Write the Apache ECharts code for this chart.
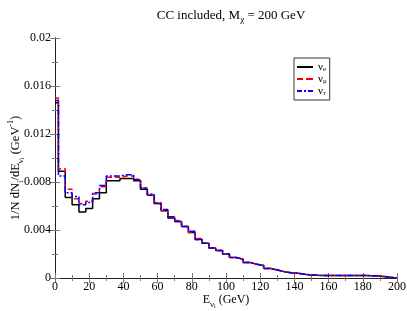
<!DOCTYPE html>
<html><head><meta charset="utf-8">
<script src="https://cdn.jsdelivr.net/npm/echarts@6/dist/echarts.min.js"></script>
<style>html,body{margin:0;padding:0;background:#fff}#c{width:407px;height:311px}</style>
</head><body><div id="c"></div>
<script>
// Bin edges (GeV)
const binEdges = [0,2,6,10,14,18,22,26,30,34,38,42,46,50,54,58,62,66,70,74,78,82,86,90,94,98,102,106,110,114,118,122,126,130,134,138,142,146,150,154,158,162,166,170,174,178,182,186,190];
const xEnd = 200;
// nu_e (black, solid)
const nuE = [0.0146,0.0089,0.0067,0.0061,0.0055,0.0058,0.0066,0.0071,0.0081,0.0081,0.0083,0.0083,0.0081,0.0074,0.0069,0.0062,0.0056,0.0050,0.0047,0.0043,0.0038,0.0032,0.0029,0.0025,0.0023,0.0020,0.0017,0.00156,0.0013,0.00114,0.00104,0.0008,0.00067,0.00053,0.00044,0.0004,0.00031,0.00024,0.00022,0.00021,0.00021,0.0002,0.0002,0.0002,0.0002,0.0002,0.00019,0.00016];
// nu_mu (red, dashed)
const nuMu = [0.0150,0.0091,0.0074,0.0066,0.0062,0.0064,0.0070,0.0076,0.0084,0.0084,0.0085,0.0085,0.0082,0.0075,0.0069,0.0063,0.0056,0.0051,0.0048,0.0043,0.0038,0.0033,0.0029,0.0025,0.0023,0.0020,0.0017,0.00155,0.0013,0.00115,0.00104,0.00081,0.00068,0.00053,0.00045,0.0004,0.00032,0.00024,0.00022,0.00021,0.0002,0.0002,0.0002,0.0002,0.0002,0.0002,0.00018,0.00014];
// nu_tau (blue, dash-dot)
const nuTau = [0.0148,0.0085,0.0071,0.0068,0.0061,0.0063,0.0071,0.0077,0.0085,0.0085,0.0086,0.0086,0.0082,0.0075,0.0070,0.0062,0.0057,0.0051,0.0047,0.0043,0.0039,0.0032,0.0029,0.0025,0.0023,0.0020,0.0017,0.00157,0.0013,0.00114,0.00105,0.0008,0.00067,0.00054,0.00044,0.0004,0.00031,0.00025,0.00022,0.00021,0.00021,0.0002,0.0002,0.0002,0.0002,0.0002,0.00019,0.00016];
const seriesNames = ['nue','numu','nutau'];
const legendLabels = {nue:'{a|ν}{b|e}', numu:'{a|ν}{b|μ}', nutau:'{a|ν}{b|τ}'};
const legendIcons = {
  nue:'path://M0,0h16v2h-16z',
  numu:'path://M0,0h6v2h-6z M9,0h7v2h-7z',
  nutau:'path://M0,0h5v2h-5z M7,0h2v2h-2z M11,0h5v2h-5z'
};

function stepData(vals){
  const d = vals.map((v,i)=>[binEdges[i], v]);
  d.push([binEdges[binEdges.length-1], 0]);
  d.push([xEnd, 0]);
  return d;
}
const FONT = 'Liberation Serif';
const chart = echarts.init(document.getElementById('c'), null, {renderer:'canvas'});
const axisCommon = {
  axisLine:{show:true, lineStyle:{color:'#222', width:1}},
  axisTick:{show:true, inside:true, length:5, lineStyle:{color:'#777'}},
  minorTick:{show:true, splitNumber:2, length:3, lineStyle:{color:'#777'}},
  splitLine:{show:false}
};
chart.setOption({
  animation:false,
  textStyle:{fontFamily:FONT},
  title:{
    text:'CC included, M{s|χ} = 200 GeV',
    left:226, top:2, textAlign:'center',
    textStyle:{fontFamily:FONT, fontSize:13, fontWeight:'normal', color:'#000',
      rich:{s:{fontFamily:FONT, fontSize:9, verticalAlign:'bottom', padding:[8,0,0,0]}}}
  },
  grid:{left:55, right:10, top:38, bottom:33, containLabel:false, outerBoundsMode:'none'},
  legend:{
    orient:'vertical', left:294, top:58,
    data:seriesNames.map(n=>({name:n, icon:legendIcons[n]})),
    formatter:n=>legendLabels[n],
    itemWidth:16, itemHeight:2, itemGap:0, symbolKeepAspect:false,
    padding:[3,3,3,3],
    borderColor:'#333', borderWidth:1,
    textStyle:{fontFamily:FONT, fontSize:11, color:'#000', lineHeight:12,
      rich:{a:{fontFamily:FONT, fontSize:11, lineHeight:12}, b:{fontFamily:FONT, fontSize:7, lineHeight:8, verticalAlign:'bottom', padding:[3,0,0,0]}}}
  },
  xAxis:[
    Object.assign({type:'value', min:0, max:200, interval:20,
      name:'E{s|ν}{t|i} (GeV)', nameLocation:'middle', nameGap:13, nameMoveOverlap:false,
      nameTextStyle:{fontFamily:FONT, fontSize:12, color:'#000',
        rich:{s:{fontFamily:FONT, fontSize:9, verticalAlign:'bottom', padding:[8,0,0,0]},
              t:{fontFamily:FONT, fontSize:6, verticalAlign:'bottom', padding:[12,0,0,0]}}},
      axisLabel:{fontFamily:FONT, fontSize:12, color:'#000', margin:3}}, axisCommon),
    Object.assign({type:'value', min:0, max:200, interval:20, position:'top',
      axisLabel:{show:false}}, axisCommon)
  ],
  yAxis:[
    Object.assign({type:'value', min:0, max:0.02, interval:0.004,
      name:'1/N dN{s|i}/dE{s|ν}{t|i} (GeV{p|-1})', nameLocation:'middle', nameGap:30, nameMoveOverlap:false,
      nameTextStyle:{fontFamily:FONT, fontSize:12.5, color:'#000', padding:[0,20,0,0],
        rich:{s:{fontFamily:FONT, fontSize:9, verticalAlign:'bottom', padding:[8,0,0,0]},
              t:{fontFamily:FONT, fontSize:6, verticalAlign:'bottom', padding:[12,0,0,0]},
              p:{fontFamily:FONT, fontSize:8, verticalAlign:'top', padding:[0,0,6,0]}}},
      axisLabel:{fontFamily:FONT, fontSize:12, color:'#000', margin:4}}, axisCommon),
    Object.assign({type:'value', min:0, max:0.02, interval:0.004, position:'right',
      axisLabel:{show:false}}, axisCommon)
  ],
  series:[
    {name:'nue', type:'line', step:'end', showSymbol:false, symbol:'none', data:stepData(nuE),
      lineStyle:{color:'#000', width:1.5, type:'solid'}, itemStyle:{color:'#000'}},
    {name:'numu', type:'line', step:'end', showSymbol:false, symbol:'none', data:stepData(nuMu),
      lineStyle:{color:'#ff0000', width:1.5, type:[5,3]}, itemStyle:{color:'#ff0000'}},
    {name:'nutau', type:'line', step:'end', showSymbol:false, symbol:'none', data:stepData(nuTau),
      lineStyle:{color:'#0000ff', width:1.5, type:[6,2,2,2]}, itemStyle:{color:'#0000ff'}}
  ]
});
</script></body></html>
